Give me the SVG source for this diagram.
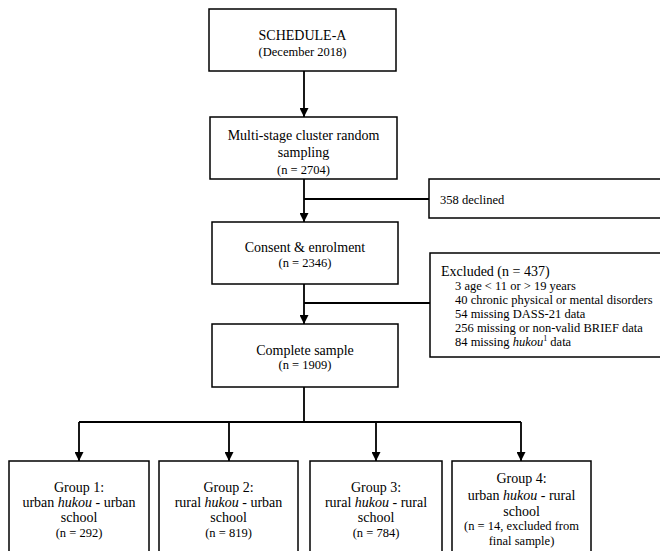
<svg xmlns="http://www.w3.org/2000/svg" width="660" height="551" viewBox="0 0 660 551" font-family="'Liberation Serif', 'Times New Roman', 'DejaVu Serif', serif">
<style>
.box{fill:#fff;stroke:#000;stroke-width:1.5}
.con{fill:none;stroke:#000;stroke-width:1.8}
text{font-family:'Liberation Serif','Times New Roman','DejaVu Serif',serif;fill:#000}
.m{font-size:14px;text-anchor:middle}
.s{font-size:12.5px;text-anchor:middle}
.l{font-size:12.5px}
.lb{font-size:14px}
.i{font-style:italic}
</style>
<defs>
<marker id="ah" markerUnits="userSpaceOnUse" markerWidth="9" markerHeight="9" refX="9" refY="4.5" orient="auto">
<path d="M0,0 L9,4.5 L0,9 z" fill="#000"/>
</marker>
</defs>
<rect width="660" height="551" fill="#fff"/>
<g id="connectors">
<path class="con" d="M304,71 V117" marker-end="url(#ah)"/>
<path class="con" d="M304,179 V222" marker-end="url(#ah)"/>
<path class="con" d="M304,199 H429"/>
<path class="con" d="M304,284 V324" marker-end="url(#ah)"/>
<path class="con" d="M304,303 H430"/>
<path class="con" d="M304,387 V422 M79,422 H521"/>
<path class="con" d="M79,422 V461" marker-end="url(#ah)"/>
<path class="con" d="M229,422 V461" marker-end="url(#ah)"/>
<path class="con" d="M376,422 V461" marker-end="url(#ah)"/>
<path class="con" d="M521,422 V461" marker-end="url(#ah)"/>
</g>
<g id="schedule">
<rect class="box" x="209" y="9" width="187" height="62"/>
<text class="m" x="302.5" y="40">SCHEDULE-A</text>
<text class="s" x="302.5" y="56">(December 2018)</text>
</g>
<g id="sampling">
<rect class="box" x="210" y="117" width="187" height="62"/>
<text class="m" x="303.5" y="140">Multi-stage cluster random</text>
<text class="m" x="303.5" y="157">sampling</text>
<text class="s" x="303.5" y="174">(n = 2704)</text>
</g>
<g id="declined">
<rect class="box" x="429" y="179" width="245" height="39"/>
<text class="l" x="440" y="204">358 declined</text>
</g>
<g id="consent">
<rect class="box" x="212" y="222" width="186" height="62"/>
<text class="m" x="305" y="252">Consent &amp; enrolment</text>
<text class="s" x="305" y="267">(n = 2346)</text>
</g>
<g id="excluded">
<rect class="box" x="430" y="253" width="245" height="104"/>
<text class="lb" x="441" y="276">Excluded (n = 437)</text>
<text class="l" x="455" y="290">3 age &lt; 11 or &gt; 19 years</text>
<text class="l" x="455" y="304">40 chronic physical or mental disorders</text>
<text class="l" x="455" y="318">54 missing DASS-21 data</text>
<text class="l" x="455" y="332">256 missing or non-valid BRIEF data</text>
<text class="l" x="455" y="346">84 missing <tspan class="i">hukou</tspan><tspan font-size="8" dy="-5">1</tspan><tspan dy="5"> data</tspan></text>
</g>
<g id="complete">
<rect class="box" x="212" y="324" width="186" height="63"/>
<text class="m" x="305" y="355">Complete sample</text>
<text class="s" x="305" y="369">(n = 1909)</text>
</g>
<g id="group1">
<rect class="box" x="9" y="461" width="140" height="100"/>
<text class="m" x="79" y="492">Group 1:</text>
<text class="m" x="79" y="507">urban <tspan class="i">hukou</tspan> - urban</text>
<text class="m" x="79" y="522">school</text>
<text class="s" x="79" y="537">(n = 292)</text>
</g>
<g id="group2">
<rect class="box" x="159" y="461" width="139" height="100"/>
<text class="m" x="228.5" y="492">Group 2:</text>
<text class="m" x="228.5" y="507">rural <tspan class="i">hukou</tspan> - urban</text>
<text class="m" x="228.5" y="522">school</text>
<text class="s" x="228.5" y="537">(n = 819)</text>
</g>
<g id="group3">
<rect class="box" x="310" y="461" width="132" height="100"/>
<text class="m" x="376" y="492">Group 3:</text>
<text class="m" x="376" y="507">rural <tspan class="i">hukou</tspan> - rural</text>
<text class="m" x="376" y="522">school</text>
<text class="s" x="376" y="537">(n = 784)</text>
</g>
<g id="group4">
<rect class="box" x="452" y="461" width="139" height="100"/>
<text class="m" x="521.5" y="483">Group 4:</text>
<text class="m" x="521.5" y="500">urban <tspan class="i">hukou</tspan> - rural</text>
<text class="m" x="521.5" y="516">school</text>
<text class="s" x="521.5" y="530">(n = 14, excluded from</text>
<text class="s" x="521.5" y="545">final sample)</text>
</g>
</svg>
